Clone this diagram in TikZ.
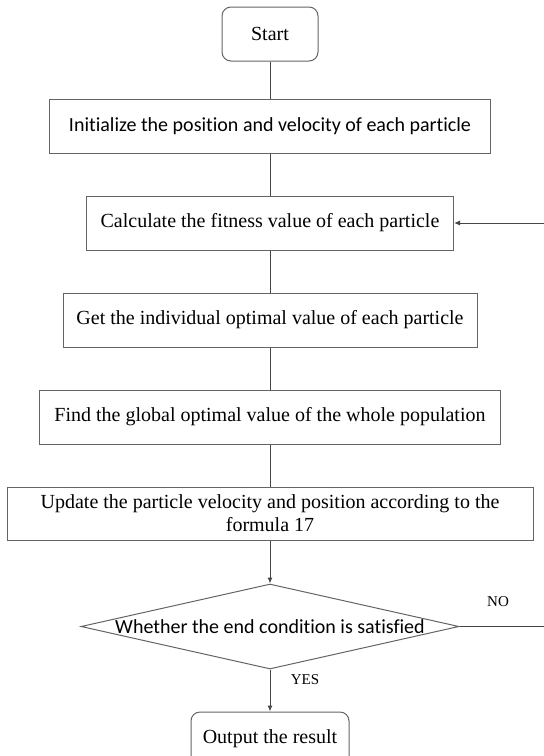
\documentclass[tikz,border=0pt]{standalone}
\usepackage{fontspec}
\setmainfont{Liberation Serif}
\newfontfamily\calibri[Ligatures=NoCommon]{Carlito}
\usetikzlibrary{positioning,shapes.geometric,arrows.meta}

\definecolor{boxgray}{RGB}{100,100,100}
\definecolor{linegray}{RGB}{70,70,70}

\tikzset{
  box/.style={draw=boxgray, line width=1pt, rectangle, minimum height=54pt,
    font=\fontsize{20}{23}\selectfont, align=center},
  term/.style={box, rounded corners=9pt},
  sans/.style={font=\calibri\fontsize{20}{23}\selectfont},
  decision/.style={draw=boxgray, line width=1pt, diamond,
    minimum width=378pt, minimum height=85pt, inner sep=0pt},
  flow/.style={draw=linegray, line width=1pt},
  arr/.style={flow, -{Latex[length=6pt,width=5pt]}},
  tag/.style={font=\fontsize{15}{17}\selectfont},
}

\begin{document}
\begin{tikzpicture}[x=1pt, y=1pt, node distance=42pt]
  \useasboundingbox (0,0) rectangle (544,-756);

  % Define nodes
  \node[term, minimum width=96pt]                 (start) at (270,-34) {Start};
  \node[box, sans, minimum width=441pt, below=37pt of start] (init) {Initialize the position and velocity of each particle};
  \node[box, minimum width=367pt, below=of init]  (calc) {Calculate the fitness value of each particle};
  \node[box, minimum width=414pt, below=of calc]  (pbest) {Get the individual optimal value of each particle};
  \node[box, minimum width=461pt, below=of pbest] (gbest) {Find the global optimal value of the whole population};
  \node[box, minimum width=526pt, minimum height=53pt, below=of gbest] (update) {Update the particle velocity and position according to the\\ formula 17};
  \node[decision, below=43pt of update]           (check) {};
  \node[sans]                                     (checktext) at (check) {Whether the end condition is satisfied};
  \node[term, minimum width=158pt, below=of check] (output) {Output the result};
  \coordinate[right=92pt of check.east]           (loop);
  \node[tag]                                      (no) at (498,-602) {NO};
  \node[tag]                                      (yes) at (305,-680) {YES};

  % Connect the nodes
  \draw[flow] (start) -- (init);
  \draw[flow] (init) -- (calc);
  \draw[flow] (calc) -- (pbest);
  \draw[flow] (pbest) -- (gbest);
  \draw[flow] (gbest) -- (update);
  \draw[arr] (update) -- (check);
  \draw[arr] (check) -- (output);
  \draw[arr] (check.east) -- (loop) |- (calc.east);

\end{tikzpicture}
\end{document}
